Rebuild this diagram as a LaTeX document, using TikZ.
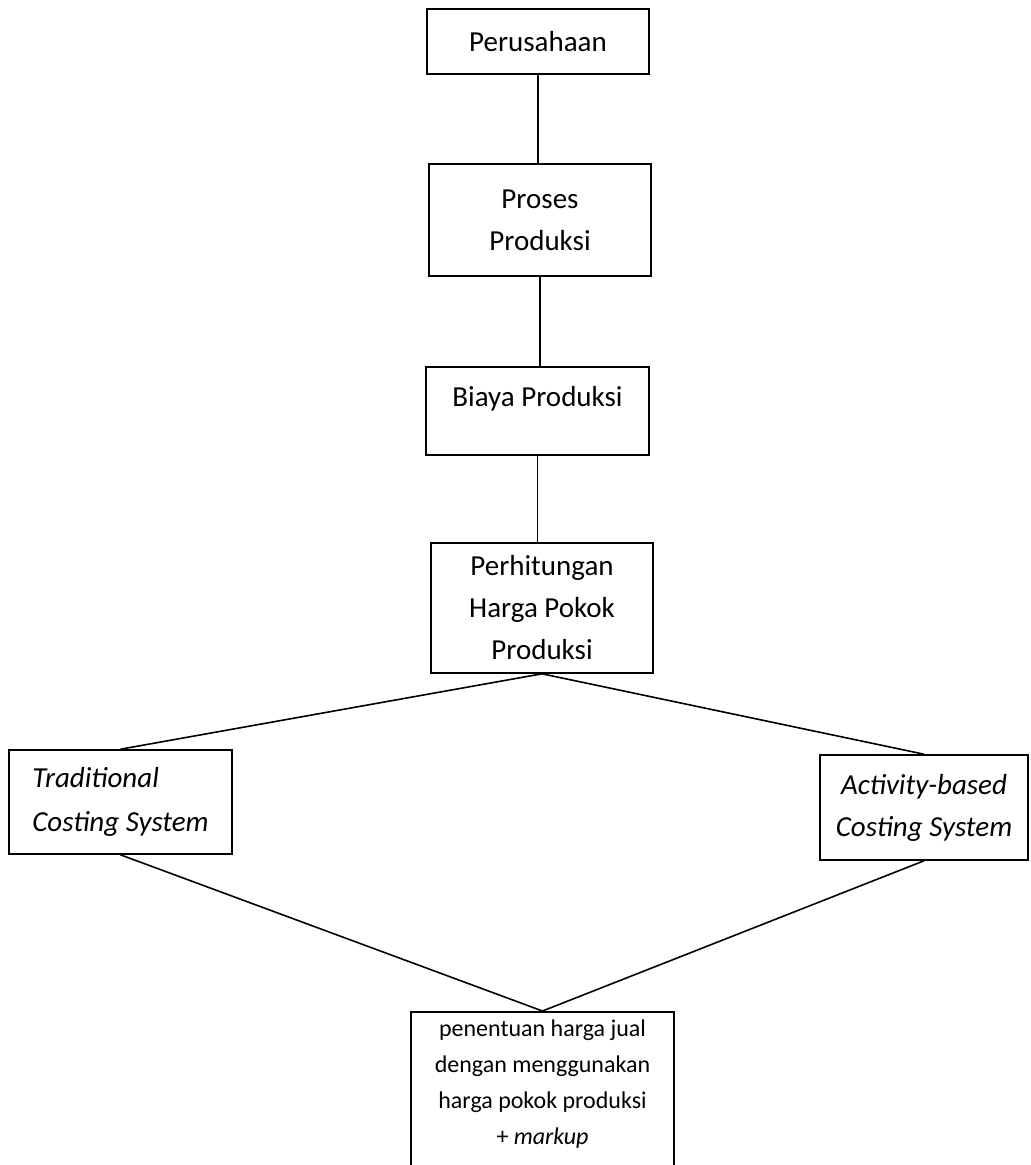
\documentclass[tikz,border=0pt]{standalone}
\usepackage{fontspec}
\setmainfont{Carlito}
\usetikzlibrary{positioning,calc}

\begin{document}
\begin{tikzpicture}[x=0.5pt,y=-0.5pt,
    box/.style={draw, line width=0.8pt, align=center, inner sep=0pt,
      font=\fontsize{14.5}{21}\selectfont},
    link/.style={line width=0.8pt}]
    % Page
    \useasboundingbox (0,0) rectangle (1031,1165);

    % Upper chain
    \node[box, minimum width=111pt, minimum height=32.5pt] (perusahaan) at (538,41.5) {Perusahaan};
    \node[box, minimum width=111pt, minimum height=56pt] (proses) at (540,220) {Proses\\Produksi};
    \node[box, anchor=north, minimum width=111.5pt, text height=20pt, text depth=24pt] (biaya) at (537.5,366) {Biaya Produksi};
    \node[box, minimum width=111pt, minimum height=65pt] (hpp) at (542,608) {Perhitungan\\Harga Pokok\\Produksi};

    % Costing systems
    \node[box, align=left, minimum width=111.5pt, minimum height=52pt,
      font=\fontsize{14.5}{22}\selectfont\itshape] (trad) at (120.5,802) {Traditional\\Costing System};
    \node[box, minimum width=104pt, minimum height=52.5pt,
      font=\fontsize{14.5}{21}\selectfont\itshape] (abc) at (924,807.5) {Activity-based\\Costing System};

    % Selling price
    \node[box, anchor=north, minimum width=131.5pt, text height=66.5pt, text depth=28pt,
      font=\fontsize{12}{18}\selectfont] (jual) at (542.5,1011)
      {penentuan harga jual\\dengan menggunakan\\harga pokok produksi\\+ \textit{markup}};

    % Links
    \draw[link] (perusahaan.south) -- (perusahaan.south |- proses.north);
    \draw[link] (proses.south) -- (proses.south |- biaya.north);
    \draw[link] (biaya.south) -- (biaya.south |- hpp.north);
    \draw[link] (trad.north) -- (hpp.south) -- (abc.north);
    \draw[link] (trad.south) -- (jual.north) -- (abc.south);
\end{tikzpicture}
\end{document}
